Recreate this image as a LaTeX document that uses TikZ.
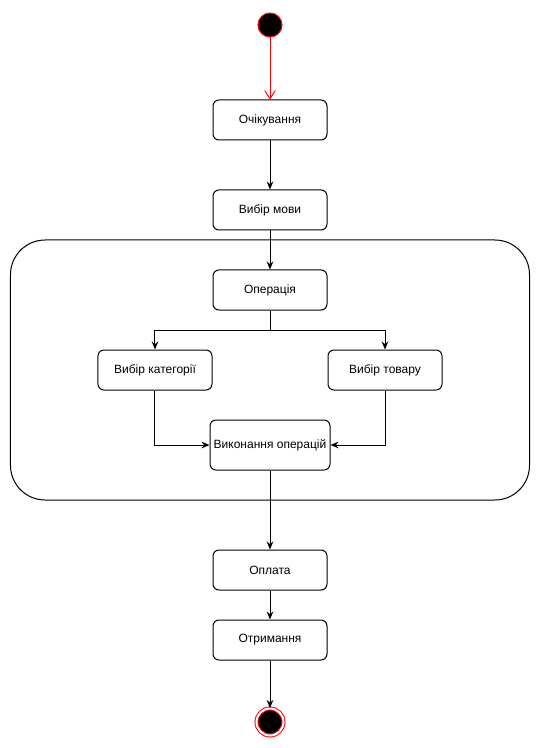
\documentclass[tikz,border=0pt]{standalone}
\usepackage{fontspec}
\setmainfont{Liberation Sans}
\usetikzlibrary{positioning,arrows.meta}
\tikzstyle{S} = [rectangle,
			draw, fill=white,
			minimum width=85.5pt, minimum height=30pt,
			rounded corners=4.5pt, inner sep=1pt,
			font=\fontsize{9pt}{11pt}\selectfont]
\tikzstyle{I} = [circle,
			draw=red, fill=black,
			minimum size=18pt, inner sep=0pt]
\tikzstyle{T} = [circle,
			draw=red, fill=black, line width=0.75pt,
			double=white, double distance=1.5pt,
			minimum size=20.25pt, inner sep=0pt]
\tikzstyle{Z} = [rectangle,
			draw, minimum width=389.25pt, minimum height=195pt,
			rounded corners=26pt]
\tikzstyle{L} = [draw, -{Stealth[length=6pt, width=5pt]}]

\begin{document}
\begin{tikzpicture}[on grid, auto, line width=0.75pt]

\useasboundingbox (-202.5pt,18.75pt) rectangle (203.25pt,-542.25pt);

\node [I]
(ini)
	{};

\node [S, below of =ini, node distance =71.25pt]
(wait)
	{Очікування};

\node [S, below of =wait, node distance =67.5pt]
(lang)
	{Вибір мови};

\node [Z, below of =lang, node distance =120pt]
(zone)
	{};

\node [S, below of =lang, node distance =60pt]
(op)
	{Операція};

\coordinate [below of =op, node distance =30pt] (split);

\node [S, below left =60pt and 86.25pt of op]
(cat)
	{Вибір категорії};

\node [S, below right =60pt and 86.25pt of op]
(prod)
	{Вибір товару};

\node [S, below of =op, node distance =116.25pt,
	minimum width=90pt, minimum height=37.5pt]
(exe)
	{Виконання операцій};

\node [S, below of =exe, node distance =93.75pt]
(pay)
	{Оплата};

\node [S, below of =pay, node distance =52.5pt]
(get)
	{Отримання};

\node [T, below of =get, node distance =61.5pt]
(fin)
	{};

\path[draw=red, -{Straight Barb[length=6pt, width=8pt]}] (ini) -- (wait);

\path[L] (wait) -- (lang);

\path[L] (lang) -- (op);

\draw (op) -- (split);

\path[L] (split) -| (cat);

\path[L] (split) -| (prod);

\path[L] (cat) |- (exe);

\path[L] (prod) |- (exe);

\path[L] (exe) -- (pay);

\path[L] (pay) -- (get);

\path[L] (get) -- (fin);

\end{tikzpicture}
\end{document}
